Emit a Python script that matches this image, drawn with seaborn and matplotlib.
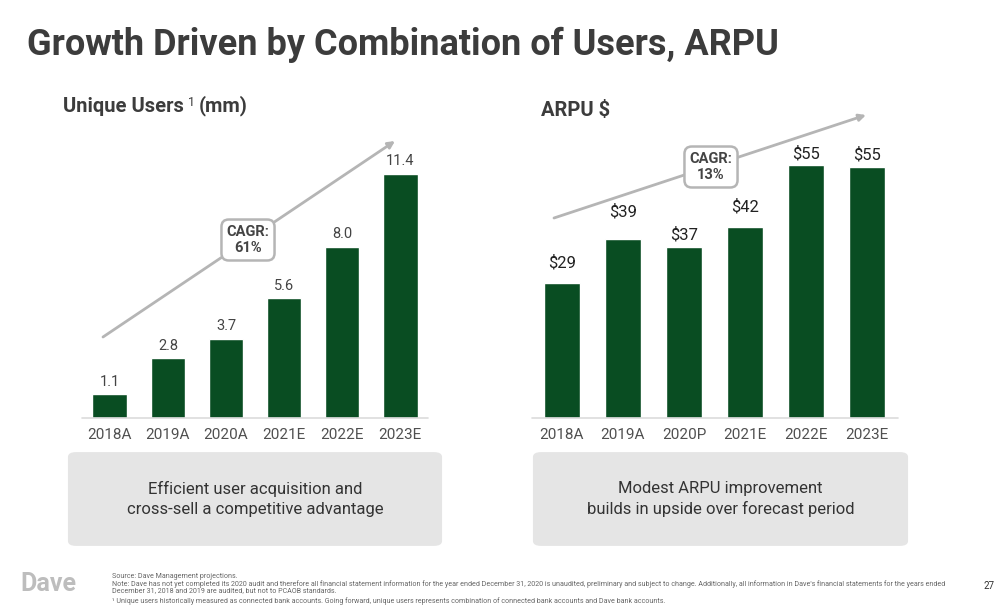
import matplotlib
matplotlib.use("Agg")
import matplotlib.pyplot as plt
import seaborn as sns

# ----------------------------
# Данные
# ----------------------------
years_users = ["2018A", "2019A", "2020A", "2021E", "2022E", "2023E"]
users_mm = [1.1, 2.8, 3.7, 5.6, 8.0, 11.4]
users_labels = ["1.1", "2.8", "3.7", "5.6", "8.0", "11.4"]

years_arpu = ["2018A", "2019A", "2020P", "2021E", "2022E", "2023E"]
arpu = [29, 38.6, 36.9, 41.2, 54.6, 54.2]
arpu_labels = ["$29", "$39", "$37", "$42", "$55", "$55"]

users_cagr = "CAGR:\n61%"
arpu_cagr = "CAGR:\n13%"

sns.set_theme(style="white")
plt.rcParams["font.family"] = ["Roboto", "DejaVu Sans"]

W, H = 1008, 612
GREEN = "#094d22"
GRAY_TXT = "#505050"


def fx(x):
    return x / W


def fy(y):
    return 1 - y / H


fig = plt.figure(figsize=(W / 100, H / 100), dpi=100)
fig.patch.set_facecolor("white")

# заголовок
fig.text(fx(27), fy(45), "Growth Driven by Combination of Users, ARPU",
         fontsize=26, fontweight="bold", color="#3c3c3c", va="center")
fig.text(fx(63), fy(106), "Unique Users", fontsize=14.5,
         fontweight="bold", color="#3c3c3c", va="center")
fig.text(fx(188), fy(102), "1", fontsize=9, color="#3c3c3c", va="center")
fig.text(fx(199), fy(106), "(mm)", fontsize=14.5,
         fontweight="bold", color="#3c3c3c", va="center")
fig.text(fx(541), fy(111), "ARPU $", fontsize=14.5,
         fontweight="bold", color="#3c3c3c", va="center")


def bar_panel(rect, cats, vals, ylim, xlim):
    ax = fig.add_axes(rect)
    sns.barplot(x=cats, y=vals, color=GREEN, saturation=1, width=0.6, ax=ax)
    ax.set_ylim(0, ylim)
    ax.set_xlim(*xlim)
    sns.despine(ax=ax, left=True, bottom=True)
    ax.axhline(0, color="#dcdcdc", lw=1.2, clip_on=False)
    ax.set_yticks([])
    ax.tick_params(axis="x", length=0, pad=7, labelsize=11, labelcolor=GRAY_TXT)
    ax.set_facecolor("none")
    return ax


# 1. Unique users
ax1 = bar_panel([fx(82), fy(418), fx(428) - fx(82), (418 - 135) / H],
                years_users, users_mm, 283 / 21.4, (-0.48, 5.48))
for i, (v, lab) in enumerate(zip(users_mm, users_labels)):
    ax1.annotate(lab, (i, v), xytext=(0, 4), textcoords="offset points",
                 ha="center", va="bottom", fontsize=10.5, color="#444444")

# 2. ARPU
ax2 = bar_panel([fx(532), fy(418), fx(898) - fx(532), (418 - 110) / H],
                years_arpu, arpu, 308 / 4.64, (-0.49, 5.51))
arpu_pad = [9, 14, 3, 9, 2, 3]
for i, (v, lab) in enumerate(zip(arpu, arpu_labels)):
    ax2.annotate(lab, (i, v), xytext=(0, arpu_pad[i]), textcoords="offset points",
                 ha="center", va="bottom", fontsize=12, color="#222222")

# стрелки CAGR
arrow = dict(arrowstyle="-|>", color="#b5b5b5", lw=2, mutation_scale=10,
             shrinkA=0, shrinkB=0)
fig.add_artist(matplotlib.patches.FancyArrowPatch(
    (fx(103), fy(337)), (fx(395), fy(141)), transform=fig.transFigure, **arrow))
fig.add_artist(matplotlib.patches.FancyArrowPatch(
    (fx(554), fy(218)), (fx(866), fy(115)), transform=fig.transFigure, **arrow))

box = dict(boxstyle="round,pad=0.35,rounding_size=0.5", fc="white",
           ec="#b5b5b5", lw=1.8)
fig.text(fx(248), fy(240), users_cagr, ha="center", va="center", fontsize=10.5,
         fontweight="bold", color="#444444", bbox=box, linespacing=1.25)
fig.text(fx(711), fy(167), arpu_cagr, ha="center", va="center", fontsize=10.5,
         fontweight="bold", color="#444444", bbox=box, linespacing=1.25)

# серые плашки с выводами
for x0, x1, txt in [(68, 442, "Efficient user acquisition and\ncross-sell a competitive advantage"),
                    (533, 908, "Modest ARPU improvement\nbuilds in upside over forecast period")]:
    fig.add_artist(matplotlib.patches.FancyBboxPatch(
        (fx(x0 + 8), fy(546 - 5)), fx(x1 - x0 - 16), (94 - 10) / H,
        boxstyle="round,pad=0.008,rounding_size=0.008", transform=fig.transFigure,
        fc="#e5e5e5", ec="none"))
    fig.text(fx((x0 + x1) / 2), fy(499), txt, ha="center", va="center",
             fontsize=12, color="#333333", linespacing=1.35)

# подвал
fig.text(fx(20), fy(584), "Dave", fontsize=18, fontweight="bold",
         color="#bdbdbd", va="center")
notes = [
    "Source: Dave Management projections.",
    "Note: Dave has not yet completed its 2020 audit and therefore all financial statement information for the year ended December 31, 2020 is unaudited, preliminary and subject to change. Additionally, all information in Dave's financial statements for the years ended",
    "December 31, 2018 and 2019 are audited, but not to PCAOB standards.",
    "\u00b9 Unique users historically measured as connected bank accounts. Going forward, unique users represents combination of connected bank accounts and Dave bank accounts.",
]
for y, line in zip([577, 584, 591, 601], notes):
    fig.text(fx(112), fy(y), line, fontsize=5.1, color="#666666", va="center")
fig.text(fx(983), fy(586), "27", fontsize=7, color="#333333", va="center")

fig.savefig("out.png", dpi=100)
